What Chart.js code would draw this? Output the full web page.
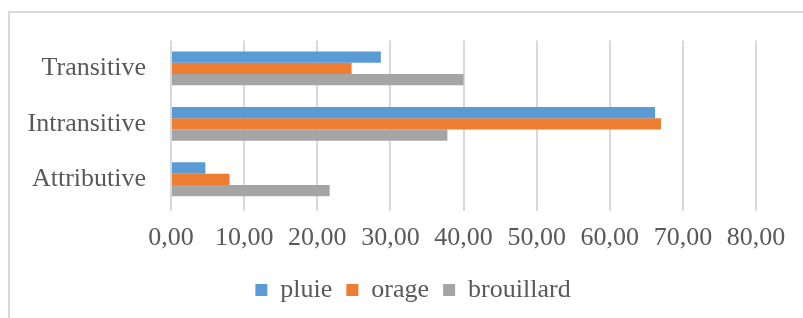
<!DOCTYPE html>
<html>
<head>
<meta charset="utf-8">
<script src="https://cdn.jsdelivr.net/npm/chart.js@4/dist/chart.umd.min.js"></script>
<style>
  html, body { margin: 0; padding: 0; background: #fff; overflow: hidden; }
  #wrap { position: relative; width: 803px; height: 318px; }
  #frame { position: absolute; left: 8px; top: 11px; width: 900px; height: 400px; border: 2px solid #d9d9d9; box-sizing: border-box; }
  canvas { position: absolute; left: 0; top: 0; }
</style>
</head>
<body>
<div id="wrap">
  <div id="frame"></div>
  <canvas id="c" width="803" height="318"></canvas>
</div>
<script>
const categories = ["Transitive", "Intransitive", "Attributive"];
const seriesNames = ["pluie", "orage", "brouillard"];
const pluie = [28.7, 66.2, 4.7];
const orage = [24.7, 67.0, 8.0];
const brouillard = [40.0, 37.8, 21.7];
const xTicks = [0, 10, 20, 30, 40, 50, 60, 70, 80];
const colors = ["#5B9BD5", "#ED7D31", "#A5A5A5"];

const fontFamily = "'Liberation Serif', 'Times New Roman', serif";
const textColor = "#595959";

const shiftLegend = {
  id: "shiftLegend",
  afterLayout(chart) {
    if (chart.legend) { chart.legend.left += 70; }
  }
};

new Chart(document.getElementById("c"), {
  type: "bar",
  data: {
    labels: categories,
    datasets: [pluie, orage, brouillard].map((d, i) => ({
      label: seriesNames[i],
      data: d,
      backgroundColor: colors[i],
      borderWidth: 0,
      barPercentage: 1.0,
      categoryPercentage: 0.61
    }))
  },
  plugins: [shiftLegend],
  options: {
    indexAxis: "y",
    responsive: false,
    animation: false,
    devicePixelRatio: 1,
    layout: { padding: { left: 0, right: 47, top: 40, bottom: 5 } },
    plugins: {
      tooltip: { enabled: false },
      legend: {
        position: "bottom",
        labels: {
          font: { family: fontFamily, size: 26 },
          color: textColor,
          boxWidth: 12,
          boxHeight: 12,
          padding: 14
        }
      }
    },
    scales: {
      x: {
        min: 0,
        max: 80,
        afterBuildTicks: (s) => { s.ticks = xTicks.map(v => ({ value: v })); },
        afterFit: (s) => { s.height = 56; },
        ticks: {
          font: { family: fontFamily, size: 26 },
          color: textColor,
          padding: 12,
          callback: (v) => Number(v).toFixed(2).replace(".", ",")
        },
        grid: { color: "#d9d9d9", lineWidth: 2, tickLength: 4, drawTicks: true },
        border: { display: false }
      },
      y: {
        afterFit: (s) => { s.width = 171; },
        ticks: {
          font: { family: fontFamily, size: 26 },
          color: textColor,
          padding: 25
        },
        grid: { display: false, drawTicks: false },
        border: { display: false }
      }
    }
  }
});
</script>
</body>
</html>
